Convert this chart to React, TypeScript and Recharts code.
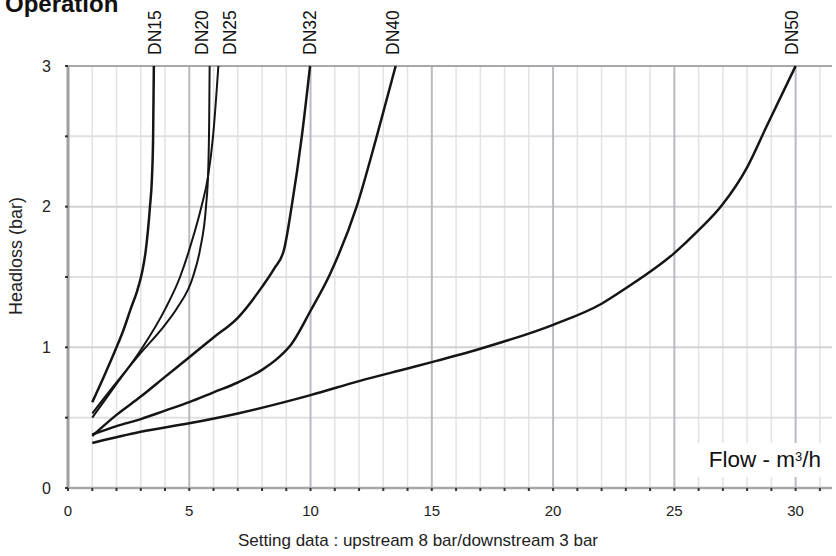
import React from 'react'
import { LineChart, Line, XAxis, YAxis, ReferenceLine, ReferenceDot } from 'recharts'

// values (flow m3/h, headloss bar)
const dn15Flow = [1, 1.5, 2, 2.28, 2.6, 2.85, 3.05, 3.2, 3.38, 3.46, 3.51, 3.54]
const dn15Loss = [0.61, 0.8, 1.0, 1.12, 1.28, 1.4, 1.53, 1.68, 2.0, 2.2, 2.5, 3.0]

const dn20Flow = [1, 2, 3, 4, 4.5, 5.15, 5.45, 5.69, 5.78, 5.82, 5.84]
const dn20Loss = [0.53, 0.75, 0.96, 1.16, 1.28, 1.5, 1.7, 2.0, 2.25, 2.6, 3.0]

const dn25Flow = [1, 2, 3, 4, 4.62, 5.1, 5.5, 5.77, 5.98, 6.2]
const dn25Loss = [0.5, 0.74, 0.98, 1.27, 1.5, 1.75, 2.0, 2.21, 2.5, 3.0]

const dn32Flow = [1, 2, 3, 4, 5, 6, 7, 8, 8.5, 8.9, 9.22, 9.64, 9.98]
const dn32Loss = [0.37, 0.52, 0.65, 0.79, 0.93, 1.07, 1.21, 1.43, 1.56, 1.69, 2.0, 2.5, 3.0]

const dn40Flow = [1, 2, 3, 4, 5, 6, 7, 8, 8.7, 9.2, 10, 10.8, 11.9, 12.73, 13.51]
const dn40Loss = [0.38, 0.44, 0.49, 0.55, 0.61, 0.68, 0.75, 0.84, 0.93, 1.02, 1.26, 1.52, 2.0, 2.5, 3.0]

const dn50Flow = [1, 3, 5, 7, 10, 12, 14, 15, 17, 20, 22, 23, 25, 25.93, 26.96, 28, 28.8, 30]
const dn50Loss = [0.32, 0.4, 0.46, 0.53, 0.66, 0.76, 0.85, 0.895, 0.99, 1.16, 1.31, 1.42, 1.67, 1.82, 2.01, 2.28, 2.57, 3.0]

const seriesNames = ['DN15', 'DN20', 'DN25', 'DN32', 'DN40', 'DN50']
const labelFlow = [3.59, 5.51, 6.68, 9.98, 13.4, 29.84]

const xTicks = Array.from({ length: 32 }, (_, i) => i)
const yTicks = [0, 0.5, 1, 1.5, 2, 2.5, 3]

const toPoints = (xs: number[], ys: number[]) => xs.map((x, i) => ({ x, y: ys[i] }))

const series = [
  toPoints(dn15Flow, dn15Loss),
  toPoints(dn20Flow, dn20Loss),
  toPoints(dn25Flow, dn25Loss),
  toPoints(dn32Flow, dn32Loss),
  toPoints(dn40Flow, dn40Loss),
  toPoints(dn50Flow, dn50Loss),
]

const font = 'Arial, "Liberation Sans", Helvetica, sans-serif'

function DnLabel(props: any) {
  const { viewBox, value } = props
  const x = viewBox.x + (viewBox.width || 0) / 2 + 6.3
  return (
    <text x={x} y={55} transform={`rotate(-90 ${x} 55)`} fontSize={17.5} fontFamily={font} fill="#111">
      {value}
    </text>
  )
}

export default function App() {
  return (
    <div style={{ position: 'absolute', left: 0, top: 0, width: 836, height: 556, background: '#fff', fontFamily: font, overflow: 'hidden' }}>
      <div style={{ position: 'absolute', left: 5, top: -8, fontSize: 24, lineHeight: '24px', fontWeight: 'bold', color: '#111' }}>
        Operation
      </div>
      <LineChart width={836} height={556} margin={{ top: 66, right: 4, bottom: 38, left: 8 }}>
        {xTicks.filter((t) => t > 0 && t % 5 !== 0).map((t) => (
          <ReferenceLine key={'vx' + t} x={t} stroke="#e3e3e6" strokeWidth={1.5} />
        ))}
        {[0.5, 1.5, 2.5].map((t) => (
          <ReferenceLine key={'hm' + t} y={t} stroke="#e0e0e0" strokeWidth={2} />
        ))}
        {[1, 2].map((t) => (
          <ReferenceLine key={'hM' + t} y={t} stroke="#d2d2d4" strokeWidth={2} />
        ))}
        {[5, 10, 15, 20, 25, 30].map((t) => (
          <ReferenceLine key={'vM' + t} x={t} stroke="#babac2" strokeWidth={2} />
        ))}
        <ReferenceLine y={3} stroke="#a8a8ac" strokeWidth={2} />
        <XAxis
          type="number"
          dataKey="x"
          domain={[0, 31.5]}
          ticks={xTicks}
          interval={0}
          height={30}
          tickSize={3}
          tickMargin={14}
          tickLine={{ stroke: '#333', strokeWidth: 2 }}
          axisLine={{ stroke: '#a8a8a8', strokeWidth: 2.5 }}
          tickFormatter={(v: number) => (v % 5 === 0 ? String(v) : '')}
          tick={{ fill: '#222', fontSize: 15, fontFamily: font }}
        />
        <YAxis
          type="number"
          dataKey="y"
          domain={[0, 3]}
          ticks={yTicks}
          interval={0}
          width={60}
          tickSize={3}
          tickMargin={14}
          tickLine={{ stroke: '#333', strokeWidth: 2 }}
          axisLine={{ stroke: '#a0a0a0', strokeWidth: 3 }}
          tickFormatter={(v: number) => (v % 1 === 0 ? String(v) : '')}
          tick={{ fill: '#222', fontSize: 16, fontFamily: font }}
        />
        {series.map((d, i) => (
          <Line
            key={seriesNames[i]}
            data={d}
            dataKey="y"
            type="monotone"
            stroke="#151515"
            strokeWidth={i === 1 || i === 2 ? 2 : 2.5}
            dot={false}
            isAnimationActive={false}
          />
        ))}
        {seriesNames.map((n, i) => (
          <ReferenceDot key={'lbl' + n} x={labelFlow[i]} y={3} r={0} stroke="none" fill="none" label={<DnLabel value={n} />} />
        ))}
      </LineChart>
      <div
        style={{
          position: 'absolute',
          left: 16 - 100,
          top: 256 - 10,
          width: 200,
          height: 20,
          lineHeight: '20px',
          textAlign: 'center',
          fontSize: 18,
          color: '#222',
          transform: 'rotate(-90deg)',
          transformOrigin: '50% 50%',
        }}
      >
        Headloss (bar)
      </div>
      <div
        style={{
          position: 'absolute',
          left: 693,
          top: 443,
          width: 129,
          height: 34,
          background: '#fff',
          fontSize: 22.5,
          color: '#111',
          lineHeight: '34px',
          textAlign: 'right',
          paddingRight: 1,
          boxSizing: 'border-box',
          whiteSpace: 'nowrap',
        }}
      >
        Flow - m<sup style={{ fontSize: 13, verticalAlign: 'top', lineHeight: '28px' }}>3</sup>/h
      </div>
      <div style={{ position: 'absolute', left: 0, width: 836, top: 531, textAlign: 'center', fontSize: 17, color: '#222' }}>
        Setting data : upstream 8 bar/downstream 3 bar
      </div>
    </div>
  )
}
